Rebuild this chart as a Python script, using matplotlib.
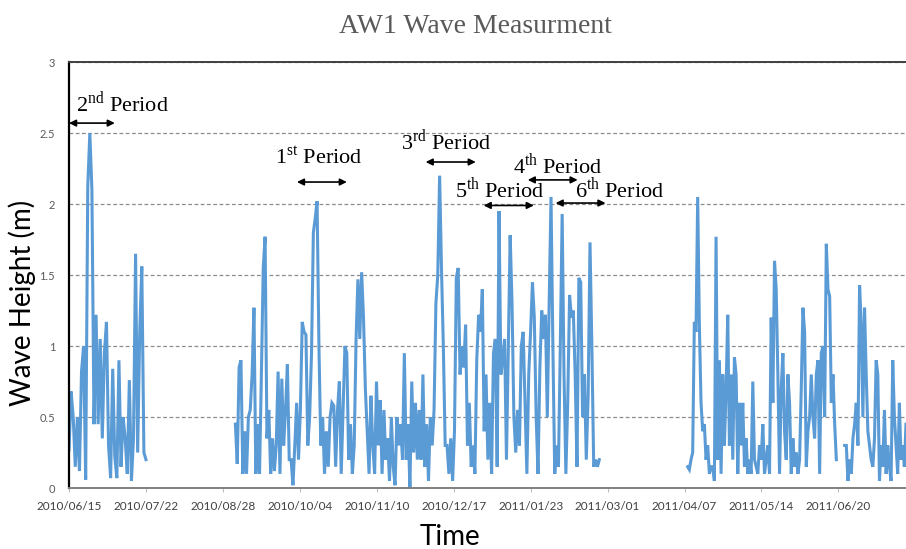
import numpy as np
import pandas as pd
import matplotlib
matplotlib.use("Agg")
import matplotlib.pyplot as plt
import matplotlib.dates as mdates

# ------------------------- #
#           DATA            #
# ------------------------- #

# wave height (m), one list per recording segment
seg1_start, seg1_end = "2010-06-15", "2010-07-22"
seg1_hs = [0.27, 0.68, 0.5, 0.15, 0.5, 0.12, 0.82, 1.0, 0.06, 2.12,
           2.5, 2.1, 0.45, 1.22, 0.45, 1.05, 0.35, 0.95, 1.17, 0.3,
           0.07, 0.84, 0.22, 0.07, 0.9, 0.15, 0.5, 0.35, 0.1, 0.76,
           0.05, 0.35, 1.65, 0.25, 1.1, 1.56, 0.25, 0.2]

seg2_start, seg2_end = "2010-09-03", "2011-02-25"
seg2_hs = [0.45, 0.17, 0.85, 0.9, 0.1, 0.4, 0.1, 0.5, 0.55, 0.8,
           1.27, 0.1, 0.45, 0.1, 0.8, 1.55, 1.77, 0.35, 0.55, 0.1,
           0.35, 0.12, 0.3, 0.82, 0.1, 0.77, 0.3, 0.55, 0.87, 0.2,
           0.2, 0.02, 0.3, 0.6, 0.2, 0.55, 1.17, 1.1, 1.08, 0.3,
           0.5, 0.95, 1.8, 1.9, 2.02, 1.0, 0.3, 0.5, 0.1, 0.4,
           0.15, 0.5, 0.6, 0.58, 0.15, 0.55, 0.75, 0.1, 0.55, 1.0,
           0.95, 0.2, 0.45, 0.1, 0.3, 1.05, 1.47, 1.05, 1.52, 1.2,
           0.7, 0.4, 0.1, 0.65, 0.3, 0.1, 0.75, 0.3, 0.62, 0.1,
           0.55, 0.2, 0.35, 0.05, 0.5, 0.15, 0.02, 0.5, 0.3, 0.45,
           0.2, 0.95, 0.2, 0.45, 0.0, 0.75, 0.25, 0.6, 0.2, 0.55,
           0.2, 0.8, 0.15, 0.45, 0.05, 0.5, 0.3, 0.55, 1.3, 1.5,
           2.2, 1.55, 1.0, 0.3, 0.3, 0.1, 0.35, 0.05, 0.4, 1.48,
           1.55, 0.8, 1.0, 0.85, 1.15, 0.3, 0.6, 0.15, 0.3, 0.1,
           0.9, 1.22, 1.1, 1.4, 0.4, 0.8, 0.2, 0.6, 0.1, 0.95,
           1.05, 0.15, 1.95, 0.8, 0.9, 1.05, 0.2, 1.0, 1.78, 1.3,
           0.5, 0.25, 0.55, 0.3, 1.0, 1.1, 0.6, 0.1, 0.8, 1.1,
           1.45, 1.2, 0.5, 0.1, 0.85, 1.25, 1.05, 1.22, 0.5, 1.3,
           2.05, 1.0, 0.1, 0.3, 0.15, 1.0, 1.93, 0.8, 0.1, 0.6,
           1.36, 1.2, 1.25, 0.8, 0.15, 1.48, 1.45, 0.5, 0.8, 0.2,
           0.65, 1.73, 1.0, 0.15, 0.2, 0.15, 0.2]

seg3_start, seg3_end = "2011-04-08 12:00", "2011-06-19 00:00"
seg3_hs = [0.15, 0.13, 0.2, 0.25, 1.17, 1.1, 2.05, 1.15, 0.6, 0.4,
           0.45, 0.2, 0.3, 0.1, 0.15, 0.15, 0.05, 1.77, 0.2, 0.9,
           0.1, 0.8, 0.3, 0.7, 1.22, 0.3, 0.8, 0.2, 0.92, 0.8,
           0.1, 0.6, 0.3, 0.6, 0.15, 0.35, 0.1, 0.2, 0.1, 0.75,
           0.2, 0.15, 0.1, 0.3, 0.2, 0.45, 0.1, 0.2, 0.3, 0.1,
           1.2, 0.6, 1.6, 1.4, 0.8, 0.1, 0.7, 0.95, 0.4, 0.2,
           0.8, 0.6, 0.1, 0.35, 0.15, 0.25, 0.1, 0.2, 0.7, 1.27,
           1.1, 0.15, 0.4, 0.5, 0.8, 0.5, 0.35, 0.8, 0.9, 0.1,
           0.95, 1.0, 0.5, 1.72, 1.4, 1.35, 0.6, 0.8, 0.45, 0.2]

seg4_start, seg4_end = "2011-06-23 00:00", "2011-07-22 12:00"
seg4_hs = [0.3, 0.3, 0.05, 0.2, 0.1, 0.35, 0.45, 0.6, 0.3, 1.43,
           1.15, 0.5, 1.27, 0.8, 0.4, 0.3, 0.2, 0.15, 0.35, 0.9,
           0.8, 0.05, 0.3, 0.15, 0.55, 0.1, 0.3, 0.15, 0.05, 0.9,
           0.5, 0.3, 0.1, 0.6, 0.2, 0.3, 0.15, 0.45]

segments = [(seg1_start, seg1_end, seg1_hs),
            (seg2_start, seg2_end, seg2_hs),
            (seg3_start, seg3_end, seg3_hs),
            (seg4_start, seg4_end, seg4_hs)]

tick_dates = pd.date_range("2010-06-15", periods=11, freq="37D")
y_ticks = [0, 0.5, 1, 1.5, 2, 2.5, 3]

# period labels: (ordinal, suffix, arrow start day, arrow end day, arrow y,
#                 text centre day, text y) -- days counted from 2010/06/15
periods = [("2", "nd", 0, 22, 2.57, 25.5, 2.71),
           ("1", "st", 109.6, 133.6, 2.155, 120, 2.33),
           ("3", "rd", 171.5, 195.6, 2.296, 181.2, 2.44),
           ("4", "th", 220.6, 244.6, 2.17, 235, 2.27),
           ("5", "th", 199.4, 223.5, 1.99, 207, 2.10),
           ("6", "th", 234, 258, 2.007, 265, 2.10)]

# ------------------------- #
#           PLOT            #
# ------------------------- #

plt.rcParams["mathtext.fontset"] = "custom"
plt.rcParams["mathtext.rm"] = "Liberation Serif"

fig = plt.figure(figsize=(9.06, 5.49), dpi=100)
ax = fig.add_axes([0.0762, 0.111, 0.9238, 0.776])

line_color = "#5B9BD5"
for start, end, hs in segments:
    t = pd.date_range(start, end, periods=len(hs))
    ax.plot(t, hs, color=line_color, lw=2.2, solid_joinstyle="miter")

base = mdates.date2num(pd.Timestamp("2010-06-15"))
ax.set_xlim(base, base + 402.5)
ax.set_ylim(0, 3)

ax.set_xticks(tick_dates)
ax.xaxis.set_major_formatter(mdates.DateFormatter("%Y/%m/%d"))
ax.set_yticks(y_ticks)
ax.set_yticklabels(["0", "0.5", "1", "1.5", "2", "2.5", "3"])

for lab in ax.get_xticklabels():
    lab.set_fontfamily("Lato")
    lab.set_fontsize(8.5)
    lab.set_color("#404040")
for lab in ax.get_yticklabels():
    lab.set_fontfamily("Lato")
    lab.set_fontsize(8)
    lab.set_color("#595959")

ax.tick_params(axis="x", length=3, color="#bfbfbf", pad=6)
ax.tick_params(axis="y", length=0, pad=10)

ax.grid(axis="y", color="#8c8c8c", linestyle=(0, (3, 2)), lw=0.9)
ax.set_axisbelow(True)

ax.spines["left"].set_color("black")
ax.spines["left"].set_linewidth(1.6)
ax.spines["bottom"].set_color("#808080")
ax.spines["bottom"].set_linewidth(1.4)
ax.spines["top"].set_color("#404040")
ax.spines["top"].set_linewidth(1.4)
ax.spines["right"].set_visible(False)

for num, suf, a0, a1, ay, tx, ty in periods:
    ax.annotate("", xy=(base + a1, ay), xytext=(base + a0, ay),
                arrowprops=dict(arrowstyle="<|-|>", color="black", lw=1.2,
                                mutation_scale=10, shrinkA=0, shrinkB=0),
                annotation_clip=False)
    ax.text(base + tx, ty, num + r"$^{\mathrm{" + suf + "}}$ Period",
            family="Liberation Serif", fontsize=16, ha="center", va="center")

fig.text(0.525, 0.951, "AW1 Wave Measurment", family="Liberation Serif",
         fontsize=20, color="#595959", ha="center", va="center")
fig.text(0.497, 0.022, "Time", family="Lato", fontsize=20,
         ha="center", va="center")
fig.text(0.024, 0.448, "Wave Height (m)", family="Lato", fontsize=20,
         rotation=90, ha="center", va="center")

fig.savefig("out.png", dpi=100)
